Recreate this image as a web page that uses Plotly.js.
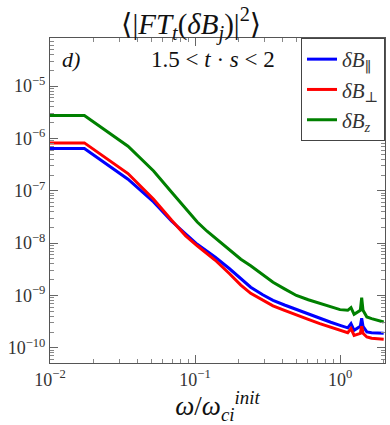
<!DOCTYPE html>
<html>
<head>
<meta charset="utf-8">
<script src="https://cdn.plot.ly/plotly-3.0.1.min.js"></script>
<style>
  body { margin: 0; background: #fff; }
  #plot { width: 390px; height: 425px; }
</style>
</head>
<body>
<div id="plot"></div>
<script>
// frequencies, omega / omega_ci^init
var freq = [0.01, 0.01726, 0.0345, 0.0518, 0.069, 0.0863, 0.1036, 0.121, 0.138, 0.173, 0.207,
  0.242, 0.293, 0.345, 0.414, 0.5, 0.604, 0.725, 0.863, 1.0, 1.13, 1.19, 1.25, 1.38, 1.41, 1.44,
  1.53, 1.65, 2.0];

var bPar = [6.44e-7, 6.44e-7, 1.67e-7, 6.14e-8, 2.62e-8, 1.48e-8, 9.52e-9, 7.0e-9, 5.37e-9, 3.24e-9,
  2.06e-9, 1.44e-9, 1.03e-9, 8.1e-10, 6.58e-10, 5.37e-10, 4.48e-10, 3.68e-10, 3.08e-10, 2.69e-10,
  2.41e-10, 2.9e-10, 2.16e-10, 2.58e-10, 3.66e-10, 2.58e-10, 2.01e-10, 1.95e-10, 1.89e-10];
var bPerp = [8.24e-7, 8.24e-7, 2.14e-7, 6.9e-8, 2.74e-8, 1.38e-8, 8.91e-9, 6.27e-9, 4.71e-9, 2.6e-9,
  1.58e-9, 1.1e-9, 8.1e-10, 6.35e-10, 5.21e-10, 4.22e-10, 3.51e-10, 2.89e-10, 2.45e-10, 2.16e-10,
  1.94e-10, 2.33e-10, 1.73e-10, 1.89e-10, 2.58e-10, 1.89e-10, 1.61e-10, 1.52e-10, 1.46e-10];
var bZ = [2.75e-6, 2.75e-6, 7.13e-7, 2.4e-7, 9.39e-8, 4.59e-8, 2.53e-8, 1.69e-8, 1.25e-8, 7.48e-9,
  4.92e-9, 3.7e-9, 2.48e-9, 1.79e-9, 1.34e-9, 1.0e-9, 8.28e-10, 7.03e-10, 6.14e-10, 5.37e-10,
  5.21e-10, 5.87e-10, 4.37e-10, 5.21e-10, 9.12e-10, 5.21e-10, 3.88e-10, 3.61e-10, 3.11e-10];

var xTicks = [0.01, 0.1, 1];
var xLabels = ['10<sup>−2</sup>', '10<sup>−1</sup>', '10<sup>0</sup>'];
var yTicks = [1e-10, 1e-9, 1e-8, 1e-7, 1e-6, 1e-5];
var yLabels = ['10<sup>−10</sup>', '10<sup>−9</sup>', '10<sup>−8</sup>', '10<sup>−7</sup>',
  '10<sup>−6</sup>', '10<sup>−5</sup>'];

var serif = "Liberation Serif, DejaVu Serif, serif";

function trace(y, name, color) {
  return { x: freq, y: y, name: name, type: 'scatter', mode: 'lines',
    line: { color: color, width: 3 } };
}

var data = [
  trace(bPar, '<i>δB</i><sub>∥</sub>', '#0000ff'),
  trace(bPerp, '<i>δB</i><sub>⊥</sub>', '#ff0000'),
  trace(bZ, '<i>δB</i><sub><i>z</i></sub>', '#008000')
];

function axis(range, vals, text) {
  return {
    type: 'log', range: range, tickmode: 'array', tickvals: vals, ticktext: text,
    ticks: 'inside', ticklen: 8, tickcolor: '#666', tickwidth: 1,
    mirror: 'ticks', showline: true, linecolor: '#555', linewidth: 1,
    showgrid: false, zeroline: false,
    tickfont: { family: serif, size: 18, color: '#333' },
    minor: { ticks: 'inside', ticklen: 4, tickcolor: '#888', dtick: 'D1', showgrid: false }
  };
}

var xaxis = axis([-2, 0.31], xTicks, xLabels);
xaxis.title = { text: '<i>ω</i>/<i>ω</i><sub><i>ci</i></sub><sup><i>init</i></sup>',
  font: { family: serif, size: 27, color: '#111' }, standoff: 6 };
var yaxis = axis([-10.29, -4.08], yTicks, yLabels);

var layout = {
  width: 390, height: 425,
  margin: { l: 50, r: 5, t: 38, b: 62 },
  paper_bgcolor: '#fff', plot_bgcolor: '#fff',
  title: { text: '⟨|<i>FT</i><sub><i>t</i></sub>(<i>δB</i><sub><i>j</i></sub>)|<sup>2</sup>⟩',
    font: { family: serif, size: 29, color: '#111' }, x: 0.49, xanchor: 'center', y: 0.945, yanchor: 'middle' },
  xaxis: xaxis,
  yaxis: yaxis,
  showlegend: true,
  legend: { x: 1, xanchor: 'right', y: 1, yanchor: 'top',
    bordercolor: '#444', borderwidth: 1, bgcolor: '#fff',
    font: { family: serif, size: 21, color: '#333' } },
  annotations: [
    { text: '<i>d)</i>', xref: 'paper', yref: 'paper', x: 0.03, y: 0.98, xanchor: 'left', yanchor: 'top',
      showarrow: false, font: { family: serif, size: 22, color: '#111' } },
    { text: '1.5 < <i>t</i> · <i>s</i> < 2', xref: 'paper', yref: 'paper', x: 0.487, y: 0.98,
      xanchor: 'center', yanchor: 'top', showarrow: false, font: { family: serif, size: 23, color: '#111' } }
  ]
};

Plotly.newPlot('plot', data, layout, { displayModeBar: false });
</script>
</body>
</html>
